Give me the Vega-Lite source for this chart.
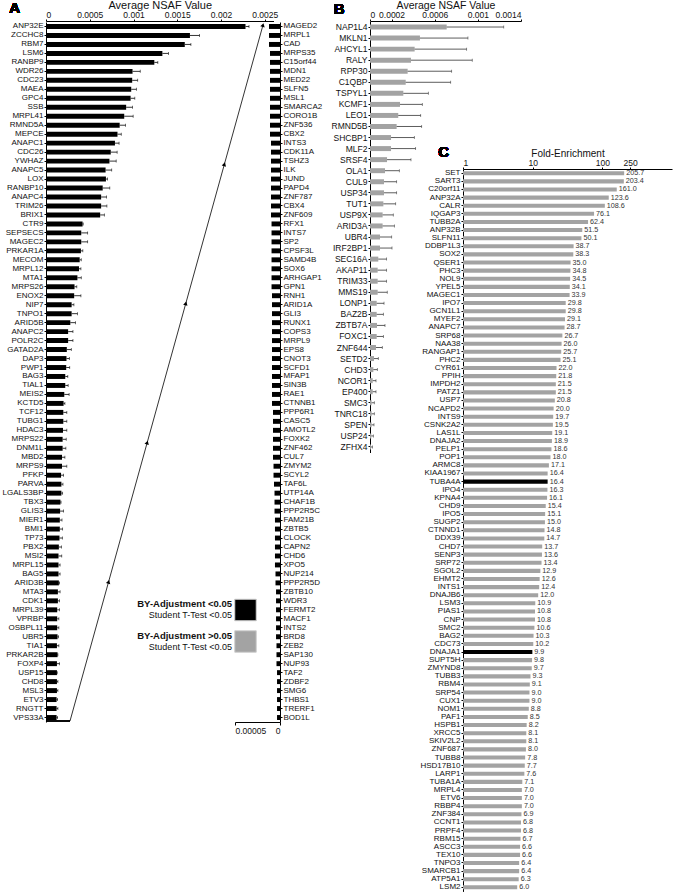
{
"$schema":"https://vega.github.io/schema/vega-lite/v6.json",
"width":686,"height":895,"autosize":{"type":"none"},"padding":0,"background":"white",
"config":{"view":{"stroke":null},"font":"Liberation Sans",
 "axis":{"grid":false,"domainColor":"#000","tickColor":"#000","labelColor":"#111","titleColor":"#111","labelFont":"Liberation Sans","titleFont":"Liberation Sans","titleFontWeight":"normal","domainWidth":1,"tickWidth":1}},
"datasets":{
"A1":[
{"g":"ANP32E","v":0.00228,"up":0.00232},{"g":"ZCCHC8","v":0.001645,"up":0.001755},{"g":"RBM7","v":0.001586,"up":0.001656},{"g":"LSM6","v":0.00133,"up":0.0014},{"g":"RANBP9","v":0.001238,"up":0.001278},{"g":"WDR26","v":0.000989,"up":0.001077},{"g":"CDC23","v":0.000985,"up":0.001048},{"g":"MAEA","v":0.000974,"up":0.001033},{"g":"GPC4","v":0.000967,"up":0.001015},{"g":"SSB","v":0.000916,"up":0.000989},
{"g":"MRPL41","v":0.000894,"up":0.000996},{"g":"RMND5A","v":0.000842,"up":0.000909},{"g":"MEPCE","v":0.000817,"up":0.00086},{"g":"ANAPC1","v":0.000788,"up":0.000835},{"g":"CDC26","v":0.00074,"up":0.000813},{"g":"YWHAZ","v":0.000725,"up":0.000802},{"g":"ANAPC5","v":0.000681,"up":0.000751},{"g":"LOX","v":0.000685,"up":0.000703},{"g":"RANBP10","v":0.000648,"up":0.000729},{"g":"ANAPC4","v":0.00063,"up":0.000692},
{"g":"TRIM26","v":0.00063,"up":0.000696},{"g":"BRIX1","v":0.000619,"up":0.000667},{"g":"CTR9","v":0.000418,"up":0.000425},{"g":"SEPSECS","v":0.000403,"up":0.000476},{"g":"MAGEC2","v":0.000403,"up":0.000476},{"g":"PRKAR1A","v":0.000399,"up":0.000421},{"g":"MECOM","v":0.000385,"up":0.000403},{"g":"MRPL12","v":0.000377,"up":0.000399},{"g":"MTA1","v":0.000359,"up":0.000403},{"g":"MRPS26","v":0.000326,"up":0.000352},
{"g":"ENOX2","v":0.000322,"up":0.000399},{"g":"NIP7","v":0.000293,"up":0.000319},{"g":"TNPO1","v":0.000293,"up":0.000359},{"g":"ARID5B","v":0.000278,"up":0.000337},{"g":"ANAPC2","v":0.000253,"up":0.000308},{"g":"POLR2C","v":0.000253,"up":0.000308},{"g":"GATAD2A","v":0.000238,"up":0.000289},{"g":"DAP3","v":0.000234,"up":0.000267},{"g":"PWP1","v":0.000231,"up":0.000271},{"g":"BAG3","v":0.00022,"up":0.000249},
{"g":"TIAL1","v":0.00022,"up":0.000253},{"g":"MEIS2","v":0.000209,"up":0.000264},{"g":"KCTD5","v":0.000201,"up":0.000216},{"g":"TCF12","v":0.000198,"up":0.000238},{"g":"TUBG1","v":0.000198,"up":0.000238},{"g":"HDAC3","v":0.000194,"up":0.000238},{"g":"MRPS22","v":0.00019,"up":0.000231},{"g":"DNM1L","v":0.00019,"up":0.000227},{"g":"MBD2","v":0.000183,"up":0.000216},{"g":"MRPS9","v":0.000183,"up":0.000238},
{"g":"PFKP","v":0.000172,"up":0.000201},{"g":"PARVA","v":0.000176,"up":0.000194},{"g":"LGALS3BP","v":0.000176,"up":0.00019},{"g":"TBX3","v":0.000165,"up":0.000172},{"g":"GLIS3","v":0.000161,"up":0.000201},{"g":"MIER1","v":0.000158,"up":0.000183},{"g":"BMI1","v":0.000158,"up":0.00019},{"g":"TP73","v":0.000154,"up":0.000187},{"g":"PBX2","v":0.000147,"up":0.000176},{"g":"MSI2","v":0.000143,"up":0.00018},
{"g":"MRPL15","v":0.000143,"up":0.000161},{"g":"BAG5","v":0.000143,"up":0.000161},{"g":"ARID3B","v":0.000147,"up":0.000154},{"g":"MTA3","v":0.000136,"up":0.000161},{"g":"CDK1","v":0.000136,"up":0.000154},{"g":"MRPL39","v":0.000128,"up":0.000154},{"g":"VPRBP","v":0.000128,"up":0.000147},{"g":"OSBPL11","v":0.000128,"up":0.000147},{"g":"UBR5","v":0.000132,"up":0.000143},{"g":"TIA1","v":0.000125,"up":0.000147},
{"g":"PRKAR2B","v":0.000132,"up":0.000136},{"g":"FOXP4","v":0.000125,"up":0.000154},{"g":"USP15","v":0.000125,"up":0.000128},{"g":"CHD8","v":0.000125,"up":0.000136},{"g":"MSL3","v":0.000125,"up":0.000136},{"g":"ETV3","v":0.000121,"up":0.000132},{"g":"RNGTT","v":0.000121,"up":0.000136},{"g":"VPS33A","v":0.000121,"up":0.000132}
],
"A2":[
{"g":"MAGED2","v":0.0000122},{"g":"MRPL1","v":0.0000122},{"g":"CAD","v":0.0000122},{"g":"MRPS35","v":0.0000111},{"g":"C15orf44","v":0.0000111},{"g":"MDN1","v":0.0000111},{"g":"MED22","v":0.0000111},{"g":"SLFN5","v":0.0000111},{"g":"MSL1","v":0.0000111},{"g":"SMARCA2","v":0.0000111},
{"g":"CORO1B","v":0.0000111},{"g":"ZNF536","v":0.0000111},{"g":"CBX2","v":0.0000111},{"g":"INTS3","v":0.00001},{"g":"CDK11A","v":0.00001},{"g":"TSHZ3","v":0.00001},{"g":"ILK","v":0.00001},{"g":"JUND","v":0.00001},{"g":"PAPD4","v":0.00001},{"g":"ZNF787","v":0.00001},
{"g":"CBX4","v":0.00001},{"g":"ZNF609","v":0.00001},{"g":"RFX1","v":0.0000094},{"g":"INTS7","v":0.0000094},{"g":"SP2","v":0.0000094},{"g":"CPSF3L","v":0.0000094},{"g":"SAMD4B","v":0.0000094},{"g":"SOX6","v":0.0000094},{"g":"ARHGAP1","v":0.0000094},{"g":"GPN1","v":0.0000094},
{"g":"RNH1","v":0.0000089},{"g":"ARID1A","v":0.0000089},{"g":"GLI3","v":0.0000089},{"g":"RUNX1","v":0.0000089},{"g":"COPS3","v":0.0000089},{"g":"MRPL9","v":0.0000089},{"g":"EPS8","v":0.0000089},{"g":"CNOT3","v":0.0000089},{"g":"SCFD1","v":0.0000089},{"g":"MFAP1","v":0.0000089},
{"g":"SIN3B","v":0.0000089},{"g":"RAE1","v":0.0000089},{"g":"CTNNB1","v":0.0000089},{"g":"PPP6R1","v":0.0000078},{"g":"CASC5","v":0.0000078},{"g":"AMOTL2","v":0.0000078},{"g":"FOXK2","v":0.0000078},{"g":"ZNF462","v":0.0000078},{"g":"CUL7","v":0.0000078},{"g":"ZMYM2","v":0.0000072},
{"g":"SCYL2","v":0.0000072},{"g":"TAF6L","v":0.0000067},{"g":"UTP14A","v":0.0000061},{"g":"CHAF1B","v":0.0000061},{"g":"PPP2R5C","v":0.0000061},{"g":"FAM21B","v":0.0000056},{"g":"ZBTB5","v":0.0000056},{"g":"CLOCK","v":0.0000056},{"g":"CAPN2","v":0.0000056},{"g":"CHD6","v":0.0000056},
{"g":"XPO5","v":0.0000056},{"g":"NUP214","v":0.000005},{"g":"PPP2R5D","v":0.000005},{"g":"ZBTB10","v":0.0000044},{"g":"WDR3","v":0.0000044},{"g":"FERMT2","v":0.0000044},{"g":"MACF1","v":0.0000044},{"g":"INTS2","v":0.0000044},{"g":"BRD8","v":0.0000044},{"g":"ZEB2","v":0.0000039},
{"g":"SAP130","v":0.0000039},{"g":"NUP93","v":0.0000039},{"g":"TAF2","v":0.0000033},{"g":"ZDBF2","v":0.0000033},{"g":"SMG6","v":0.0000033},{"g":"THBS1","v":0.0000033},{"g":"TRERF1","v":0.0000033},{"g":"BOD1L","v":0.0000033}
],
"B":[
{"g":"NAP1L4","v":0.000711,"up":0.00124},{"g":"MKLN1","v":0.000463,"up":0.000908},{"g":"AHCYL1","v":0.000414,"up":0.000896},{"g":"RALY","v":0.00038,"up":0.000948},{"g":"RPP30","v":0.000349,"up":0.000757},{"g":"C1QBP","v":0.000331,"up":0.000748},{"g":"TSPYL1","v":0.000309,"up":0.000541},{"g":"KCMF1","v":0.000278,"up":0.000485},{"g":"LEO1","v":0.000262,"up":0.00047},{"g":"RMND5B","v":0.000247,"up":0.000479},
{"g":"SHCBP1","v":0.000195,"up":0.000411},{"g":"MLF2","v":0.000195,"up":0.000423},{"g":"SRSF4","v":0.000158,"up":0.00038},{"g":"OLA1","v":0.000139,"up":0.000272},{"g":"CUL9","v":0.00013,"up":0.000247},{"g":"USP34","v":0.00013,"up":0.000247},{"g":"TUT1","v":0.000124,"up":0.000238},{"g":"USP9X","v":0.000117,"up":0.000216},{"g":"ARID3A","v":0.000117,"up":0.000226},{"g":"UBR4","v":0.0000927,"up":0.000201},
{"g":"IRF2BP1","v":0.0000927,"up":0.000204},{"g":"SEC16A","v":0.000077,"up":0.000154},{"g":"AKAP11","v":0.000071,"up":0.000154},{"g":"TRIM33","v":0.000071,"up":0.000154},{"g":"MMS19","v":0.000071,"up":0.00016},{"g":"LONP1","v":0.000062,"up":0.00013},{"g":"BAZ2B","v":0.000062,"up":0.000124},{"g":"ZBTB7A","v":0.000065,"up":0.000139},{"g":"FOXC1","v":0.000062,"up":0.000124},{"g":"ZNF644","v":0.0000556,"up":0.000114},
{"g":"SETD2","v":0.000037,"up":0.000077},{"g":"CHD3","v":0.000031,"up":0.000068},{"g":"NCOR1","v":0.000025,"up":0.0000556},{"g":"EP400","v":0.000025,"up":0.0000556},{"g":"SMC3","v":0.000015,"up":0.00004},{"g":"TNRC18","v":0.000015,"up":0.00004},{"g":"SPEN","v":0.000015,"up":0.000037},{"g":"USP24","v":0.000012,"up":0.000031},{"g":"ZFHX4","v":0.000009,"up":0.000022}
],
"C":[
{"g":"SET","fe":205.7,"adj":"BY-Adjustment >0.05"},{"g":"SART3","fe":203.4,"adj":"BY-Adjustment >0.05"},{"g":"C20orf11","fe":161.0,"adj":"BY-Adjustment >0.05"},{"g":"ANP32A","fe":123.6,"adj":"BY-Adjustment >0.05"},{"g":"CALR","fe":108.6,"adj":"BY-Adjustment >0.05"},{"g":"IQGAP3","fe":76.1,"adj":"BY-Adjustment >0.05"},{"g":"TUBB2A","fe":62.4,"adj":"BY-Adjustment >0.05"},{"g":"ANP32B","fe":51.5,"adj":"BY-Adjustment >0.05"},{"g":"SLFN11","fe":50.1,"adj":"BY-Adjustment >0.05"},{"g":"DDBP1L3","fe":38.7,"adj":"BY-Adjustment >0.05"},
{"g":"SOX2","fe":38.3,"adj":"BY-Adjustment >0.05"},{"g":"QSER1","fe":35.0,"adj":"BY-Adjustment >0.05"},{"g":"PHC3","fe":34.8,"adj":"BY-Adjustment >0.05"},{"g":"NOL9","fe":34.5,"adj":"BY-Adjustment >0.05"},{"g":"YPEL5","fe":34.1,"adj":"BY-Adjustment >0.05"},{"g":"MAGEC1","fe":33.9,"adj":"BY-Adjustment >0.05"},{"g":"IPO7","fe":29.8,"adj":"BY-Adjustment >0.05"},{"g":"GCN1L1","fe":29.8,"adj":"BY-Adjustment >0.05"},{"g":"MYEF2","fe":29.1,"adj":"BY-Adjustment >0.05"},{"g":"ANAPC7","fe":28.7,"adj":"BY-Adjustment >0.05"},
{"g":"SRP68","fe":26.7,"adj":"BY-Adjustment >0.05"},{"g":"NAA38","fe":26.0,"adj":"BY-Adjustment >0.05"},{"g":"RANGAP1","fe":25.7,"adj":"BY-Adjustment >0.05"},{"g":"PHC2","fe":25.1,"adj":"BY-Adjustment >0.05"},{"g":"CYR61","fe":22.0,"adj":"BY-Adjustment >0.05"},{"g":"PPIH","fe":21.8,"adj":"BY-Adjustment >0.05"},{"g":"IMPDH2","fe":21.5,"adj":"BY-Adjustment >0.05"},{"g":"PATZ1","fe":21.5,"adj":"BY-Adjustment >0.05"},{"g":"USP7","fe":20.8,"adj":"BY-Adjustment >0.05"},{"g":"NCAPD2","fe":20.0,"adj":"BY-Adjustment >0.05"},
{"g":"INTS9","fe":19.7,"adj":"BY-Adjustment >0.05"},{"g":"CSNK2A2","fe":19.5,"adj":"BY-Adjustment >0.05"},{"g":"LAS1L","fe":19.1,"adj":"BY-Adjustment >0.05"},{"g":"DNAJA2","fe":18.9,"adj":"BY-Adjustment >0.05"},{"g":"PELP1","fe":18.6,"adj":"BY-Adjustment >0.05"},{"g":"POP1","fe":18.0,"adj":"BY-Adjustment >0.05"},{"g":"ARMC8","fe":17.1,"adj":"BY-Adjustment >0.05"},{"g":"KIAA1967","fe":16.4,"adj":"BY-Adjustment >0.05"},{"g":"TUBA4A","fe":16.4,"adj":"BY-Adjustment <0.05"},{"g":"IPO4","fe":16.3,"adj":"BY-Adjustment >0.05"},
{"g":"KPNA4","fe":16.1,"adj":"BY-Adjustment >0.05"},{"g":"CHD9","fe":15.4,"adj":"BY-Adjustment >0.05"},{"g":"IPO5","fe":15.1,"adj":"BY-Adjustment >0.05"},{"g":"SUGP2","fe":15.0,"adj":"BY-Adjustment >0.05"},{"g":"CTNND1","fe":14.8,"adj":"BY-Adjustment >0.05"},{"g":"DDX39","fe":14.7,"adj":"BY-Adjustment >0.05"},{"g":"CHD7","fe":13.7,"adj":"BY-Adjustment >0.05"},{"g":"SENP3","fe":13.6,"adj":"BY-Adjustment >0.05"},{"g":"SRP72","fe":13.4,"adj":"BY-Adjustment >0.05"},{"g":"SGOL2","fe":12.9,"adj":"BY-Adjustment >0.05"},
{"g":"EHMT2","fe":12.6,"adj":"BY-Adjustment >0.05"},{"g":"INTS1","fe":12.4,"adj":"BY-Adjustment >0.05"},{"g":"DNAJB6","fe":12.0,"adj":"BY-Adjustment >0.05"},{"g":"LSM3","fe":10.9,"adj":"BY-Adjustment >0.05"},{"g":"PIAS1","fe":10.8,"adj":"BY-Adjustment >0.05"},{"g":"CNP","fe":10.8,"adj":"BY-Adjustment >0.05"},{"g":"SMC2","fe":10.6,"adj":"BY-Adjustment >0.05"},{"g":"BAG2","fe":10.3,"adj":"BY-Adjustment >0.05"},{"g":"CDC73","fe":10.2,"adj":"BY-Adjustment >0.05"},{"g":"DNAJA1","fe":9.9,"adj":"BY-Adjustment <0.05"},
{"g":"SUPT5H","fe":9.8,"adj":"BY-Adjustment >0.05"},{"g":"ZMYND8","fe":9.7,"adj":"BY-Adjustment >0.05"},{"g":"TUBB3","fe":9.3,"adj":"BY-Adjustment >0.05"},{"g":"RBM4","fe":9.1,"adj":"BY-Adjustment >0.05"},{"g":"SRP54","fe":9.0,"adj":"BY-Adjustment >0.05"},{"g":"CUX1","fe":9.0,"adj":"BY-Adjustment >0.05"},{"g":"NOM1","fe":8.8,"adj":"BY-Adjustment >0.05"},{"g":"PAF1","fe":8.5,"adj":"BY-Adjustment >0.05"},{"g":"HSPB1","fe":8.2,"adj":"BY-Adjustment >0.05"},{"g":"XRCC5","fe":8.1,"adj":"BY-Adjustment >0.05"},
{"g":"SKIV2L2","fe":8.1,"adj":"BY-Adjustment >0.05"},{"g":"ZNF687","fe":8.0,"adj":"BY-Adjustment >0.05"},{"g":"TUBB8","fe":7.8,"adj":"BY-Adjustment >0.05"},{"g":"HSD17B10","fe":7.7,"adj":"BY-Adjustment >0.05"},{"g":"LARP1","fe":7.6,"adj":"BY-Adjustment >0.05"},{"g":"TUBA1A","fe":7.1,"adj":"BY-Adjustment >0.05"},{"g":"MRPL4","fe":7.0,"adj":"BY-Adjustment >0.05"},{"g":"ETV6","fe":7.0,"adj":"BY-Adjustment >0.05"},{"g":"RBBP4","fe":7.0,"adj":"BY-Adjustment >0.05"},{"g":"ZNF384","fe":6.9,"adj":"BY-Adjustment >0.05"},
{"g":"CCNT1","fe":6.8,"adj":"BY-Adjustment >0.05"},{"g":"PRPF4","fe":6.8,"adj":"BY-Adjustment >0.05"},{"g":"RBM15","fe":6.7,"adj":"BY-Adjustment >0.05"},{"g":"ASCC3","fe":6.6,"adj":"BY-Adjustment >0.05"},{"g":"TEX10","fe":6.6,"adj":"BY-Adjustment >0.05"},{"g":"TNPO3","fe":6.4,"adj":"BY-Adjustment >0.05"},{"g":"SMARCB1","fe":6.4,"adj":"BY-Adjustment >0.05"},{"g":"ATP5A1","fe":6.3,"adj":"BY-Adjustment >0.05"},{"g":"LSM2","fe":6.0,"adj":"BY-Adjustment >0.05"}
],
"legend":[{"adj":"BY-Adjustment <0.05","test":"Student T-Test <0.05"},{"adj":"BY-Adjustment >0.05","test":"Student T-Test <0.05"}],
"conn":[{"step":0},{"step":1},{"step":2},{"step":3},{"step":4},{"step":5}]
},
"resolve":{"scale":{"x":"independent","y":"independent"},"axis":{"x":"independent","y":"independent"}},
"layer":[
{"data":{"name":"A1"},
 "layer":[
  {"mark":{"type":"bar","color":"#000"},
   "encoding":{
    "y":{"field":"g","type":"nominal","sort":null,"scale":{"range":[22,722],"paddingInner":0.45,"paddingOuter":0.225},
      "axis":{"orient":"left","offset":-46,"title":null,"labelFontSize":8,"tickSize":2,"labelPadding":1}},
    "x":{"field":"v","type":"quantitative","scale":{"domain":[0,0.0025],"range":[46,273.5]},
      "axis":{"orient":"top","offset":-21,"values":[0,0.0005,0.001,0.0015,0.002,0.0025],"format":"~f","title":"Average NSAF Value","titleFontSize":11,"labelFontSize":8.5,"tickSize":2,"labelPadding":0,"titlePadding":0}},
    "x2":{"datum":0}}},
  {"mark":{"type":"rule","color":"#000","strokeWidth":0.8},
   "encoding":{"y":{"field":"g","type":"nominal","sort":null},"x":{"field":"v","type":"quantitative"},"x2":{"field":"up"}}},
  {"mark":{"type":"tick","color":"#000","thickness":0.8,"size":3},
   "encoding":{"y":{"field":"g","type":"nominal","sort":null},"x":{"field":"up","type":"quantitative"}}},
  {"mark":{"type":"text","text":"A","fontSize":15,"fontWeight":"bold","align":"left","baseline":"middle","dy":-18,"color":"#000"},
   "encoding":{"y":{"datum":"ANP32E","type":"nominal"},"x":{"datum":-0.00042,"type":"quantitative"}}}
 ]},
{"data":{"name":"A2"},
 "layer":[
  {"mark":{"type":"bar","color":"#000"},
   "encoding":{
    "y":{"field":"g","type":"nominal","sort":null,"scale":{"range":[22,722],"paddingInner":0.45,"paddingOuter":0.225},
      "axis":{"orient":"right","offset":-406,"title":null,"labelFontSize":8,"tickSize":2,"labelPadding":1}},
    "x":{"field":"v","type":"quantitative","scale":{"domain":[0,0.00005],"range":[280,235]},
      "axis":{"orient":"bottom","offset":-173,"values":[0,0.00005],"format":"~f","title":null,"labelFontSize":8.5,"tickSize":3,"labelPadding":1}},
    "x2":{"datum":0}}}
 ]},
{"data":{"name":"conn"},
 "layer":[
  {"mark":{"type":"line","color":"#000","strokeWidth":0.8},
   "encoding":{"x":{"field":"step","type":"quantitative","scale":{"domain":[0,5],"range":[70,263]},"axis":null},
     "y":{"field":"step","type":"quantitative","scale":{"domain":[0,5],"range":[721,25]},"axis":null}}},
  {"mark":{"type":"rule","color":"#000","strokeWidth":0.8},
   "encoding":{"x":{"datum":-0.622,"type":"quantitative"},"x2":{"datum":0},"y":{"datum":0,"type":"quantitative"}}},
  {"transform":[{"filter":"datum.step > 0"}],
   "mark":{"type":"point","shape":"triangle-up","filled":true,"color":"#000","size":20,"angle":15.5,"opacity":1},
   "encoding":{"x":{"field":"step","type":"quantitative"},"y":{"field":"step","type":"quantitative"}}}
 ]},
{"data":{"name":"B"},
 "layer":[
  {"mark":{"type":"bar","color":"#a3a3a3"},
   "encoding":{
    "y":{"field":"g","type":"nominal","sort":null,"scale":{"range":[21.5,452.5],"paddingInner":0.55,"paddingOuter":0.275},
      "axis":{"orient":"left","offset":-370,"title":null,"labelFontSize":8.5,"tickSize":2,"labelPadding":1}},
    "x":{"field":"v","type":"quantitative","scale":{"domain":[0,0.0014],"range":[370,521]},
      "axis":{"orient":"top","offset":-21,"values":[0,0.0002,0.0006,0.001,0.0014],"format":"~f","title":"Average NSAF Value","titleFontSize":10.5,"labelFontSize":8.5,"tickSize":2,"labelPadding":0,"titlePadding":0}},
    "x2":{"datum":0}}},
  {"mark":{"type":"rule","color":"#333","strokeWidth":0.8},
   "encoding":{"y":{"field":"g","type":"nominal","sort":null},"x":{"field":"v","type":"quantitative"},"x2":{"field":"up"}}},
  {"mark":{"type":"tick","color":"#333","thickness":0.8,"size":3},
   "encoding":{"y":{"field":"g","type":"nominal","sort":null},"x":{"field":"up","type":"quantitative"}}},
  {"mark":{"type":"text","text":"B","fontSize":15,"fontWeight":"bold","align":"left","baseline":"middle","dy":-18,"color":"#000"},
   "encoding":{"y":{"datum":"NAP1L4","type":"nominal"},"x":{"datum":-0.000335,"type":"quantitative"}}}
 ]},
{"data":{"name":"C"},
 "layer":[
  {"mark":{"type":"bar"},
   "encoding":{
    "y":{"field":"g","type":"nominal","sort":null,"scale":{"range":[169.2,891.4],"paddingInner":0.5,"paddingOuter":0.25},
      "axis":{"orient":"left","offset":-463,"title":null,"labelFontSize":8,"tickSize":2,"labelPadding":1}},
    "x":{"field":"fe","type":"quantitative","scale":{"type":"log","domain":[1,250],"range":[463,672]},
      "axis":{"orient":"top","offset":-169,"values":[1,10,100,250],"format":"~f","title":"Fold-Enrichment","titleFontSize":10,"labelFontSize":8.5,"tickSize":2,"labelPadding":0,"titlePadding":0}},
    "x2":{"datum":1},
    "color":{"field":"adj","type":"nominal","scale":{"domain":["BY-Adjustment <0.05","BY-Adjustment >0.05"],"range":["#000000","#a3a3a3"]},"legend":null}}},
  {"mark":{"type":"text","align":"left","baseline":"middle","dx":2,"fontSize":7.2,"color":"#333"},
   "encoding":{"y":{"field":"g","type":"nominal","sort":null},"x":{"field":"fe","type":"quantitative"},"text":{"field":"fe","type":"quantitative","format":".1f"}}},
  {"mark":{"type":"text","text":"C","fontSize":15,"fontWeight":"bold","align":"left","baseline":"middle","dy":-21,"color":"#000"},
   "encoding":{"y":{"datum":"SET","type":"nominal"},"x":{"datum":0.44,"type":"quantitative"}}}
 ]},
{"data":{"name":"legend"},
 "layer":[
  {"mark":{"type":"point","shape":"square","filled":true,"size":462,"opacity":1,"stroke":"#cfcfcf","strokeWidth":1},
   "encoding":{
    "y":{"field":"adj","type":"nominal","sort":null,"scale":{"range":[594.25,657.25],"paddingInner":0,"paddingOuter":0},"axis":null},
    "x":{"datum":1,"type":"quantitative","scale":{"domain":[0,1],"range":[232,245.5]},"axis":null},
    "color":{"field":"adj","type":"nominal","legend":null}}},
  {"mark":{"type":"text","align":"right","baseline":"middle","dy":-6,"fontSize":9.5,"fontWeight":"bold","color":"#111"},
   "encoding":{"y":{"field":"adj","type":"nominal","sort":null},"x":{"datum":0,"type":"quantitative"},"text":{"field":"adj"}}},
  {"mark":{"type":"text","align":"right","baseline":"middle","dy":5,"fontSize":9,"color":"#111"},
   "encoding":{"y":{"field":"adj","type":"nominal","sort":null},"x":{"datum":0,"type":"quantitative"},"text":{"field":"test"}}}
 ]}
]
}
